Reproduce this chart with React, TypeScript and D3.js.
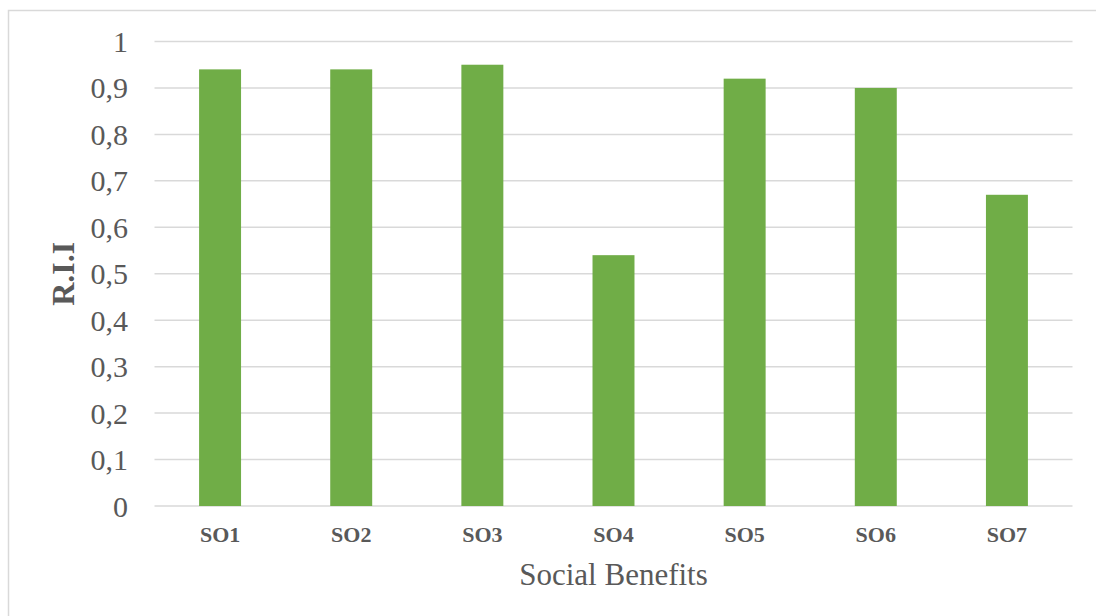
import React from "react";
import * as d3 from "d3";

const categories = ["SO1", "SO2", "SO3", "SO4", "SO5", "SO6", "SO7"];
const values = [0.94, 0.94, 0.95, 0.54, 0.92, 0.9, 0.67];
const yTicks = [0, 0.1, 0.2, 0.3, 0.4, 0.5, 0.6, 0.7, 0.8, 0.9, 1];
const xTitle = "Social Benefits";
const yTitle = "R.I.I";

const W = 1096;
const H = 616;
const left = 154.5;
const right = 1072.5;
const top = 41.5;
const bottom = 506;

export default function App() {
  const x = d3.scaleBand<string>().domain(categories).range([left, right]).paddingInner(0.68).paddingOuter(0.34);
  const y = d3.scaleLinear().domain([0, 1]).range([bottom, top]);
  const fmt = (v: number) => (v === 0 ? "0" : v === 1 ? "1" : d3.format(".1f")(v).replace(".", ","));
  const font = "'Liberation Serif', 'Times New Roman', serif";
  return (
    <svg width={W} height={H} style={{ position: "absolute", left: 0, top: 0, background: "#fff" }}>
      <rect x={8.5} y={10.5} width={W + 20} height={H + 20} fill="#fff" stroke="#d9d9d9" strokeWidth={1.5} />
      {yTicks.map((t) => (
        <g key={t}>
          <line x1={left} x2={right} y1={y(t)} y2={y(t)} stroke="#d9d9d9" strokeWidth={1.5} />
          <text x={128} y={y(t)} dy="0.35em" textAnchor="end" fontFamily={font} fontSize={30} fill="#595959">
            {fmt(t)}
          </text>
        </g>
      ))}
      {categories.map((c, i) => (
        <g key={c}>
          <rect x={x(c)} y={y(values[i])} width={x.bandwidth()} height={bottom - y(values[i])} fill="#70ad47" />
          <text x={(x(c) as number) + x.bandwidth() / 2} y={542} textAnchor="middle" fontFamily={font} fontSize={22} fontWeight="bold" fill="#595959">
            {c}
          </text>
        </g>
      ))}
      <text x={(left + right) / 2} y={585} textAnchor="middle" fontFamily={font} fontSize={31} fill="#595959">
        {xTitle}
      </text>
      <text
        transform={`translate(74, ${(top + bottom) / 2}) rotate(-90)`}
        textAnchor="middle"
        fontFamily={font}
        fontSize={32}
        fontWeight="bold"
        fill="#595959"
      >
        {yTitle}
      </text>
    </svg>
  );
}
